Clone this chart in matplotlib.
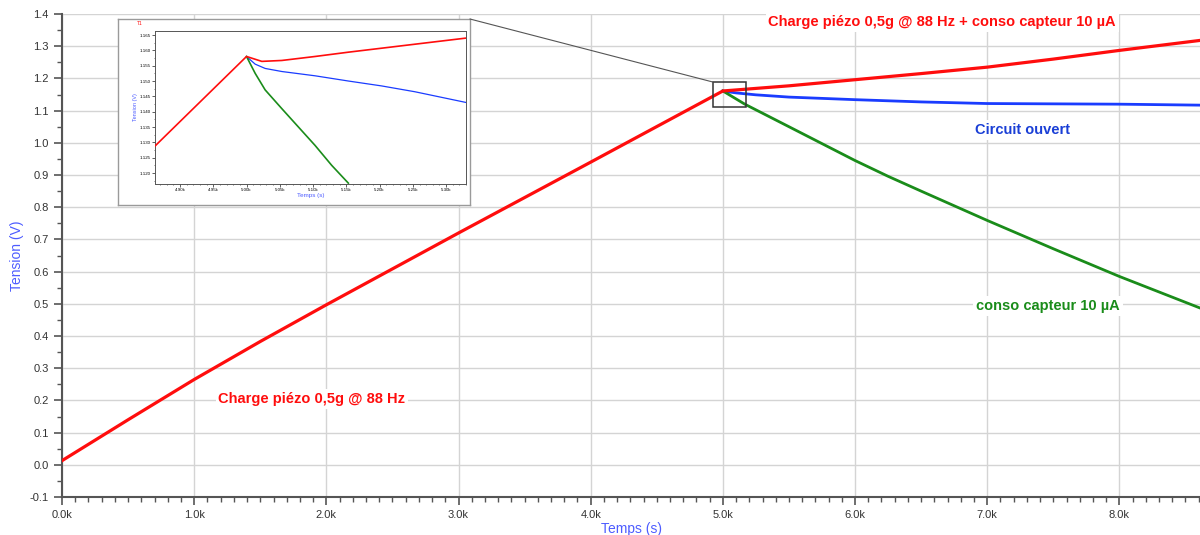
import matplotlib.pyplot as plt
from matplotlib.patches import Rectangle, ConnectionPatch
from matplotlib.ticker import MultipleLocator, FuncFormatter

plt.rcParams['font.family'] = ['Liberation Sans', 'DejaVu Sans']

# main curves (time in s, voltage in V)
t_charge = [0, 500, 1000, 1500, 2000, 3000, 4000, 5000, 5500, 6000, 6500, 7000, 7500, 8000, 8610]
v_charge = [0.013, 0.140, 0.265, 0.383, 0.497, 0.720, 0.940, 1.161, 1.177, 1.196, 1.215, 1.235, 1.260, 1.287, 1.318]

t_open = [5000, 5100, 5250, 5500, 6000, 6500, 7000, 7500, 8000, 8610]
v_open = [1.161, 1.155, 1.149, 1.142, 1.134, 1.127, 1.122, 1.121, 1.120, 1.117]

t_conso = [5000, 5166, 5500, 6000, 6250, 6500, 7000, 7500, 8000, 8610]
v_conso = [1.161, 1.120, 1.050, 0.945, 0.896, 0.850, 0.759, 0.671, 0.585, 0.487]

# zoomed capture around the switch point
zt_charge = [4862, 5000, 5023, 5053, 5103, 5153, 5203, 5253, 5330]
zv_charge = [1.1287, 1.1580, 1.1564, 1.1567, 1.1580, 1.1594, 1.1607, 1.1620, 1.1640]

zt_open = [5000, 5013, 5028, 5053, 5103, 5153, 5203, 5253, 5330]
zv_open = [1.1580, 1.1555, 1.1541, 1.1531, 1.1517, 1.1500, 1.1484, 1.1465, 1.1430]

zt_conso = [5000, 5013, 5028, 5053, 5078, 5103, 5128, 5153]
zv_conso = [1.1580, 1.1525, 1.1471, 1.1410, 1.1350, 1.1290, 1.1225, 1.1167]

RED = '#ff0d0d'
BLUE = '#1a3cff'
GREEN = '#1a8c1a'
LABEL_BLUE = '#4d5cff'

fig = plt.figure(figsize=(12, 5.35), dpi=100)
ax = fig.add_axes([0.0517, 0.071, 0.9483, 0.9028])

ax.plot(t_charge, v_charge, color=RED, lw=2.3, zorder=4)
ax.plot(t_open, v_open, color=BLUE, lw=2.0, zorder=3)
ax.plot(t_conso, v_conso, color=GREEN, lw=2.0, zorder=3)

ax.set_xlim(0, 8610)
ax.set_ylim(-0.1, 1.4)
ax.xaxis.set_major_locator(MultipleLocator(1000))
ax.xaxis.set_minor_locator(MultipleLocator(100))
ax.yaxis.set_major_locator(MultipleLocator(0.1))
ax.yaxis.set_minor_locator(MultipleLocator(0.05))
ax.xaxis.set_major_formatter(FuncFormatter(lambda x, p: f'{x / 1000:.1f}k'))
ax.yaxis.set_major_formatter(FuncFormatter(lambda y, p: f'{y:.1f}'))
ax.grid(True, which='major', color='#d4d4d4', lw=1)
ax.set_axisbelow(True)

for s in ['top', 'right']:
    ax.spines[s].set_visible(False)
for s in ['left', 'bottom']:
    ax.spines[s].set_color('#555555')
    ax.spines[s].set_linewidth(1.5)
ax.tick_params(which='major', length=6, width=1.2, color='#555555', labelsize=8, labelcolor='#333333')
ax.tick_params(which='minor', length=3.5, width=1, color='#555555')

ax.set_xlabel('Temps (s)', color=LABEL_BLUE, fontsize=10, labelpad=1)
ax.set_ylabel('Tension (V)', color=LABEL_BLUE, fontsize=10, labelpad=4)

# curve labels
box = dict(facecolor='white', edgecolor='none', pad=2)
ax.text(6660, 1.376, 'Charge piézo 0,5g @ 88 Hz + conso capteur 10 µA', color=RED,
        fontsize=10.5, fontweight='bold', ha='center', va='center', bbox=box)
ax.text(7270, 1.040, 'Circuit ouvert', color='#1a3fd6',
        fontsize=10.5, fontweight='bold', ha='center', va='center', bbox=box)
ax.text(7460, 0.494, 'conso capteur 10 µA', color=GREEN,
        fontsize=10.5, fontweight='bold', ha='center', va='center', bbox=box)
ax.text(1890, 0.205, 'Charge piézo 0,5g @ 88 Hz', color=RED,
        fontsize=10.5, fontweight='bold', ha='center', va='center', bbox=box)

# zoom box on the main plot
ax.add_patch(Rectangle((4927, 1.1125), 245, 0.076, fill=False, edgecolor='#333333', lw=1.1, zorder=6))

# inset: frame of the capture
frame = fig.add_axes([0.0983, 0.6168, 0.2933, 0.3477])
frame.set_xticks([])
frame.set_yticks([])
frame.set_facecolor('white')
for s in frame.spines.values():
    s.set_color('#9a9a9a')
    s.set_linewidth(1)

con = ConnectionPatch(xyA=(4927, 1.1885), coordsA=ax.transData,
                      xyB=(1, 1), coordsB=frame.transAxes, color='#555555', lw=0.8)
fig.add_artist(con)

ins = fig.add_axes([0.1292, 0.656, 0.2592, 0.286])
ins.plot(zt_charge, zv_charge, color=RED, lw=1.2, zorder=4)
ins.plot(zt_open, zv_open, color=BLUE, lw=0.9, zorder=3)
ins.plot(zt_conso, zv_conso, color=GREEN, lw=1.2, zorder=3)
ins.set_xlim(4862.5, 5330)
ins.set_ylim(1.1164, 1.1663)
ins.xaxis.set_major_locator(MultipleLocator(50))
ins.xaxis.set_minor_locator(MultipleLocator(10))
ins.yaxis.set_major_locator(MultipleLocator(0.005))
ins.yaxis.set_minor_locator(MultipleLocator(0.0025))
ins.xaxis.set_major_formatter(FuncFormatter(lambda x, p: f'{x / 1000:.2f}k'))
ins.yaxis.set_major_formatter(FuncFormatter(lambda y, p: f'{y:.3f}'))
ins.tick_params(which='major', length=2, width=0.6, labelsize=3.2, pad=1, color='#444444')
ins.tick_params(which='minor', length=1, width=0.5, color='#444444')
for s in ins.spines.values():
    s.set_color('#555555')
    s.set_linewidth(0.7)
ins.set_xlabel('Temps (s)', color=LABEL_BLUE, fontsize=4.5, labelpad=0.5)
ins.set_ylabel('Tension (V)', color=LABEL_BLUE, fontsize=4, labelpad=1)
ins.text(-0.05, 1.04, 'T1', color=RED, fontsize=3.5, transform=ins.transAxes, ha='center')

fig.savefig('out.png', dpi=100)
